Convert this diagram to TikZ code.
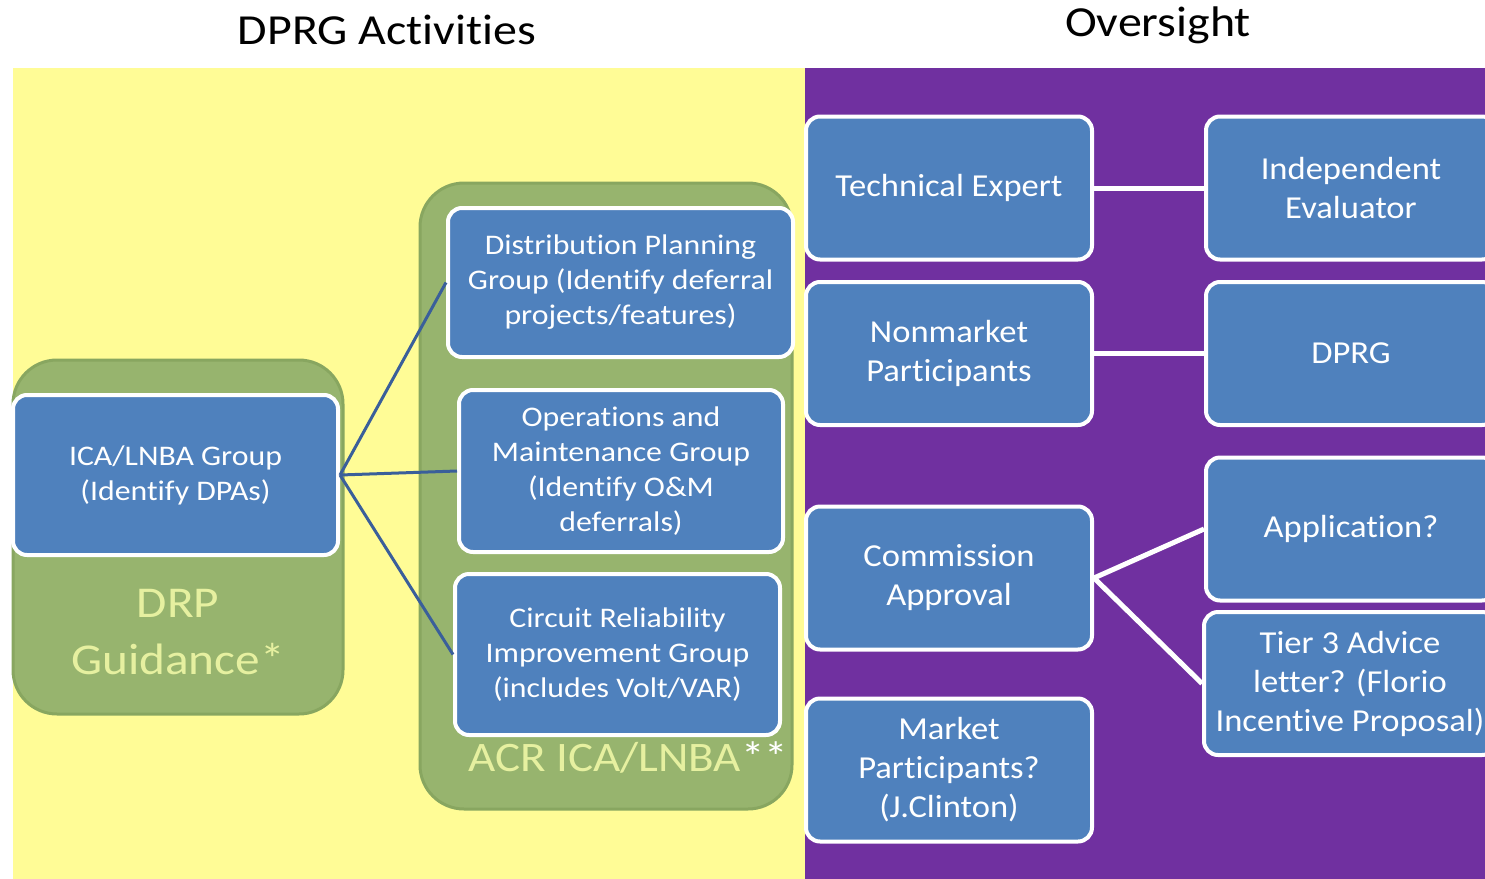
\documentclass[tikz,border=0pt]{standalone}
\usepackage{fontspec}
\setmainfont{Carlito}[Ligatures=NoCommon]
\newfontfamily\widefont{Carlito}[FakeStretch=1.12, Ligatures=NoCommon]
\newfontfamily\rightfont{Carlito}[FakeStretch=1.08, Ligatures=NoCommon]
\usetikzlibrary{positioning}
\definecolor{boxblue}{RGB}{79,129,189}
\definecolor{bgyellow}{RGB}{255,252,150}
\definecolor{bgpurple}{RGB}{112,48,160}
\definecolor{groupgreen}{RGB}{151,180,110}
\definecolor{groupedge}{RGB}{136,166,96}
\definecolor{grouptext}{RGB}{230,240,160}
\definecolor{linkblue}{RGB}{58,95,154}

\begin{document}
\begin{tikzpicture}[x=0.5pt,y=-0.5pt,
    bluebox/.style={rectangle, rounded corners=7pt, fill=boxblue, draw=white, line width=2pt,
                    text=white, align=center, inner sep=2pt},
    leftbox/.style={bluebox, font=\widefont\fontsize{14.2}{17.5}\selectfont},
    rightbox/.style={bluebox, minimum width=143pt, minimum height=71.5pt,
                     font=\rightfont\fontsize{16}{19.5}\selectfont},
    groupbox/.style={rectangle, rounded corners=22pt, fill=groupgreen, draw=groupedge, line width=1.5pt},
    grouplabel/.style={text=grouptext, align=center, font=\widefont\fontsize{22}{28.5}\selectfont},
    title/.style={font=\widefont\fontsize{21.4}{26}\selectfont},
    link/.style={draw=linkblue, line width=1.5pt},
    wlink/.style={draw=white, line width=2.5pt}]
  \clip (0,0) rectangle (1485,879);
  \useasboundingbox (0,0) rectangle (1485,879);
  % backgrounds
  \fill[white] (0,0) rectangle (1485,68);
  \fill[bgyellow] (13,68) rectangle (805,879);
  \fill[bgpurple] (805,68) rectangle (1485,879);
  \node[title] (ttl-left) at (387,30) {DPRG Activities};
  \node[title] (ttl-right) at (1158,25) {Oversight};

  % DPRG activities
  \node[groupbox, minimum width=165pt, minimum height=177pt] (drp) at (178,537) {};
  \node[grouplabel] (drp-lbl) at (178,632) {DRP\\Guidance*};
  \node[groupbox, minimum width=186pt, minimum height=313pt] (acr) at (606,496) {};
  \node[grouplabel, font=\widefont\fontsize{21}{26}\selectfont] (acr-lbl) at (628,757)
    {ACR ICA/LNBA\textcolor{white}{**}};

  \node[leftbox, minimum width=162.5pt, minimum height=80pt] (ica) at (175.5,475)
    {ICA/LNBA Group\\(Identify DPAs)};
  \node[leftbox, minimum width=172.5pt, minimum height=74.5pt] (dpg) at (620.5,282.5)
    {Distribution Planning\\Group (Identify deferral\\projects/features)};
  \node[leftbox, minimum width=162pt, minimum height=81pt] (om) at (621,471)
    {Operations and\\Maintenance Group\\(Identify O\&M\\deferrals)};
  \node[leftbox, minimum width=162.5pt, minimum height=80.5pt] (cri) at (617.5,654.5)
    {Circuit Reliability\\Improvement Group\\(includes Volt/VAR)};

  \draw[link] (ica.east) -- (dpg.west);
  \draw[link] (ica.east) -- (om.west);
  \draw[link] (ica.east) -- (cri.west);

  % oversight
  \node[rightbox] (tech) at (949,188) {Technical Expert};
  \node[rightbox, minimum width=145pt] (indep) at (1351,188) {Independent\\Evaluator};
  \node[rightbox] (nonmkt) at (949,353.5) {Nonmarket\\Participants};
  \node[rightbox, minimum width=145pt] (dprg) at (1351,353.5) {DPRG};
  \node[rightbox] (comm) at (949,578) {Commission\\Approval};
  \node[rightbox, minimum width=145pt] (appl) at (1351,529) {Application?};
  \node[rightbox, minimum width=146pt] (tier) at (1350,683.5)
    {Tier 3 Advice\\letter? (Florio\\Incentive Proposal)};
  \node[rightbox] (mkt) at (949,770) {Market\\Participants?\\(J.Clinton)};

  \draw[wlink] (tech.east) -- (indep.west);
  \draw[wlink] (nonmkt.east) -- (dprg.west);
  \draw[wlink] (comm.east) -- (appl.west);
  \draw[wlink] (comm.east) -- (tier.west);
\end{tikzpicture}
\end{document}
